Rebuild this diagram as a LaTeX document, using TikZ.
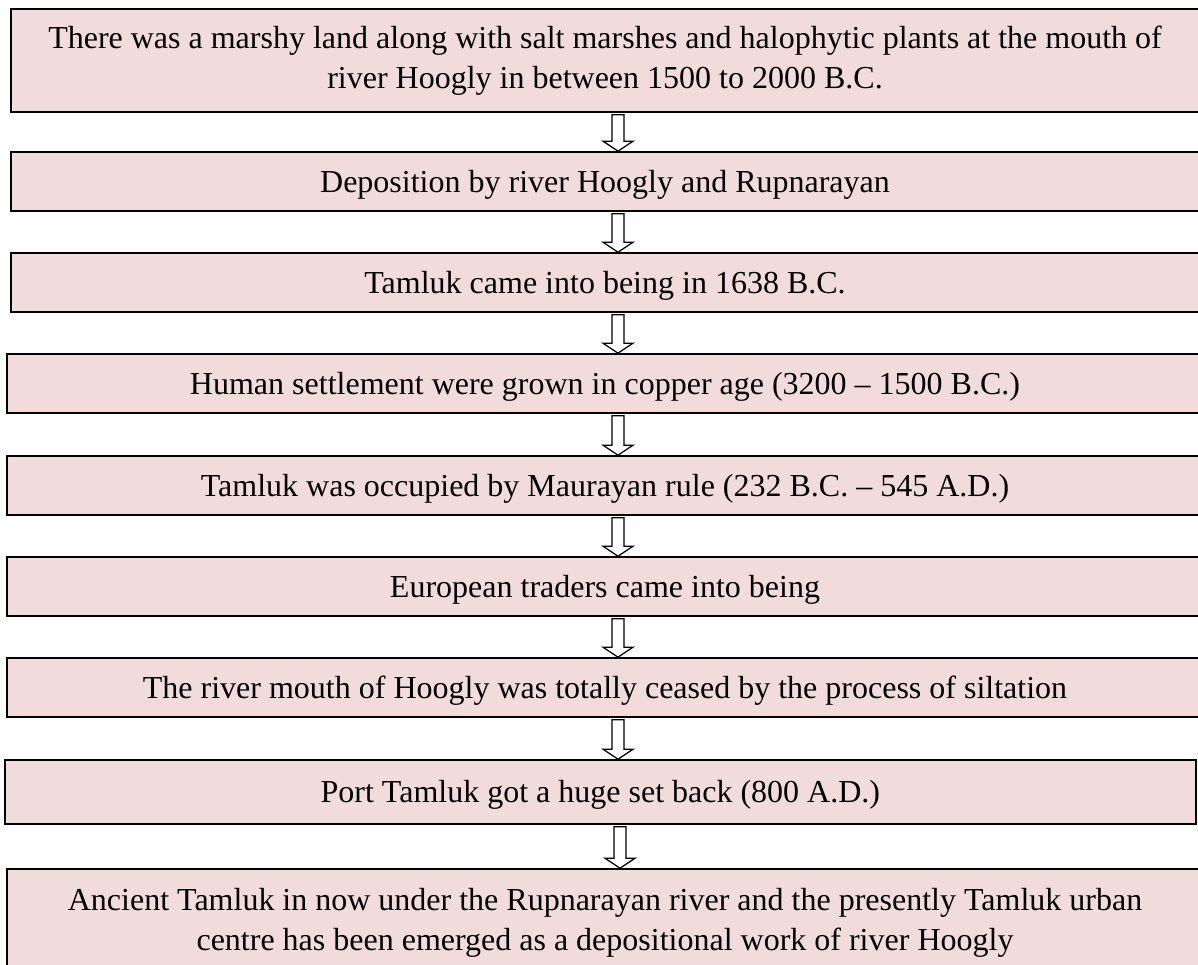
\documentclass[tikz,border=0pt]{standalone}
\usepackage{fontspec}
\setmainfont{Liberation Serif}
\usetikzlibrary{calc}
\definecolor{boxfill}{HTML}{F2DCDB}
\newcommand{\blkarrow}[3]{%
  \path (#1.south -| #3) coordinate (s) (#2.north -| #3) coordinate (t);
  \draw[blockarrow] ($(s)+(-6,2)$) -- ($(s)+(6,2)$) -- ($(t)+(6,-10)$) -- ($(t)+(15,-10)$) -- (t)
     -- ($(t)+(-15,-10)$) -- ($(t)+(-6,-10)$) -- cycle;}
\begin{document}
\begin{tikzpicture}[x=1pt,y=-1pt,
  box/.style={draw=black, line width=1.6pt, fill=boxfill, inner sep=0pt,
    font=\fontsize{32}{40}\selectfont, align=center},
  onebox/.style={box, text height=21.2pt, text depth=0pt},
  blockarrow/.style={draw=black, line width=1.3pt, fill=white, line join=miter}]
\clip (0,0) rectangle (1198,964);
\fill[white] (0,0) rectangle (1198,964);
\coordinate (ax) at (618,0);
\coordinate (bx) at (620,0);
\node[box, minimum width=1188.6pt, minimum height=103pt] (b1) at (605,60.5)
  {There was a marshy land along with salt marshes and halophytic plants at the mouth of\\
   river Hoogly in between 1500 to 2000 B.C.};
\node[onebox, minimum width=1188.6pt, minimum height=59pt] (b2) at (605,181.5)
  {Deposition by river Hoogly and Rupnarayan};
\node[onebox, minimum width=1188.6pt, minimum height=59pt] (b3) at (605,282.5)
  {Tamluk came into being in 1638 B.C.};
\node[onebox, minimum width=1196.6pt, minimum height=59pt] (b4) at (605,383.5)
  {Human settlement were grown in copper age (3200 – 1500 B.C.)};
\node[onebox, minimum width=1196.6pt, minimum height=59pt] (b5) at (605,485.5)
  {Tamluk was occupied by Maurayan rule (232 B.C. – 545 A.D.)};
\node[onebox, minimum width=1196.6pt, minimum height=59pt] (b6) at (605,586.5)
  {European traders came into being};
\node[onebox, minimum width=1196.6pt, minimum height=59pt] (b7) at (605,687.5)
  {The river mouth of Hoogly was totally ceased by the process of siltation};
\node[onebox, minimum width=1191.3pt, minimum height=64pt] (b8) at (600.35,792)
  {Port Tamluk got a huge set back (800 A.D.)};
\node[box, minimum width=1196.6pt, minimum height=107pt] (b9) at (605,922.5)
  {Ancient Tamluk in now under the Rupnarayan river and the presently Tamluk urban\\
   centre has been emerged as a depositional work of river Hoogly};
\blkarrow{b1}{b2}{ax}
\blkarrow{b2}{b3}{ax}
\blkarrow{b3}{b4}{ax}
\blkarrow{b4}{b5}{ax}
\blkarrow{b5}{b6}{ax}
\blkarrow{b6}{b7}{ax}
\blkarrow{b7}{b8}{ax}
\blkarrow{b8}{b9}{bx}
\end{tikzpicture}
\end{document}
